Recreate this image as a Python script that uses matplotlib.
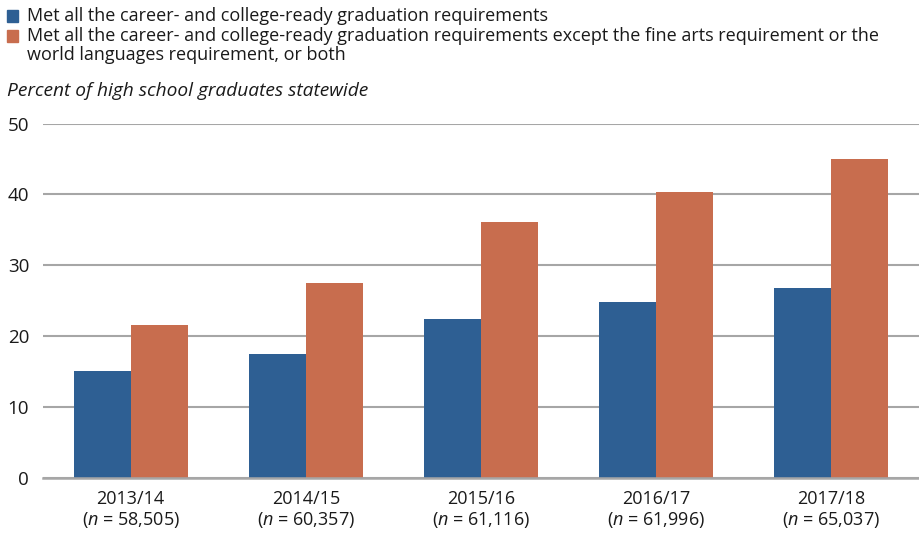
import matplotlib
matplotlib.use("Agg")
import numpy as np
import matplotlib.pyplot as plt
from matplotlib.patches import Rectangle

plt.rcParams["font.family"] = "Open Sans"
plt.rcParams["mathtext.fontset"] = "custom"
plt.rcParams["mathtext.it"] = "Open Sans:italic"
plt.rcParams["mathtext.rm"] = "Open Sans"

# Graduating classes and cohort sizes
years = ["2013/14", "2014/15", "2015/16", "2016/17", "2017/18"]
cohort_n = ["58,505", "60,357", "61,116", "61,996", "65,037"]

# Percent of graduates meeting each definition
met_all = [15.1, 17.5, 22.4, 24.8, 26.8]
met_except_arts_lang = [21.5, 27.5, 36.1, 40.4, 45.0]

series_labels = [
	"Met all the career- and college-ready graduation requirements",
	"Met all the career- and college-ready graduation requirements except the fine arts requirement or the\nworld languages requirement, or both",
]

blue = "#2e5f93"
orange = "#c86d4e"
grid_gray = "#a6a6a6"
text_col = "#1a1a1a"

fig = plt.figure(figsize=(9.19, 5.36), dpi=100)
ax = fig.add_axes([43 / 919, 58.3 / 536, 876 / 919, 354.2 / 536])

x = np.arange(len(years))
w = 0.325
ax.bar(x - w / 2, met_all, w, color=blue, zorder=3)
ax.bar(x + w / 2, met_except_arts_lang, w, color=orange, zorder=3)

ax.set_xlim(-0.5, len(years) - 0.5)
ax.set_ylim(0, 50)
ax.set_yticks(range(0, 51, 10))
ax.yaxis.grid(True, color=grid_gray, linewidth=1.5, zorder=0)
ax.set_axisbelow(True)
for side in ["top", "right", "left"]:
	ax.spines[side].set_visible(False)
ax.spines["bottom"].set_color(grid_gray)
ax.spines["bottom"].set_linewidth(1.8)
ax.spines["bottom"].set_zorder(4)

ax.set_xticks(x)
ax.set_xticklabels([f"{y}\n($\\it{{n}}$ = {n})" for y, n in zip(years, cohort_n)],
				   fontsize=13, linespacing=1.1, color=text_col)
ax.tick_params(axis="x", length=0, pad=9)
ax.tick_params(axis="y", length=0, pad=10, labelsize=13.5, labelcolor=text_col)

# Legend drawn as text rows with square swatches
rows = [(blue, series_labels[0], 16), (orange, series_labels[1], 36)]
for color, text, yc in rows:
	fig.patches.append(Rectangle((7 / 919, 1 - (yc + 5.5) / 536), 11 / 919, 11 / 536,
								 transform=fig.transFigure, color=color))
	fig.text(27 / 919, 1 - yc / 536, text.split("\n")[0], fontsize=13, va="center",
			 ha="left", color=text_col)
	if "\n" in text:
		fig.text(27 / 919, 1 - (yc + 19.5) / 536, text.split("\n")[1], fontsize=13,
				 va="center", ha="left", color=text_col)

fig.text(7 / 919, 1 - 91 / 536, "Percent of high school graduates statewide",
		 fontsize=13.8, style="italic", va="center", ha="left", color=text_col)

fig.savefig("out.png", dpi=100)
